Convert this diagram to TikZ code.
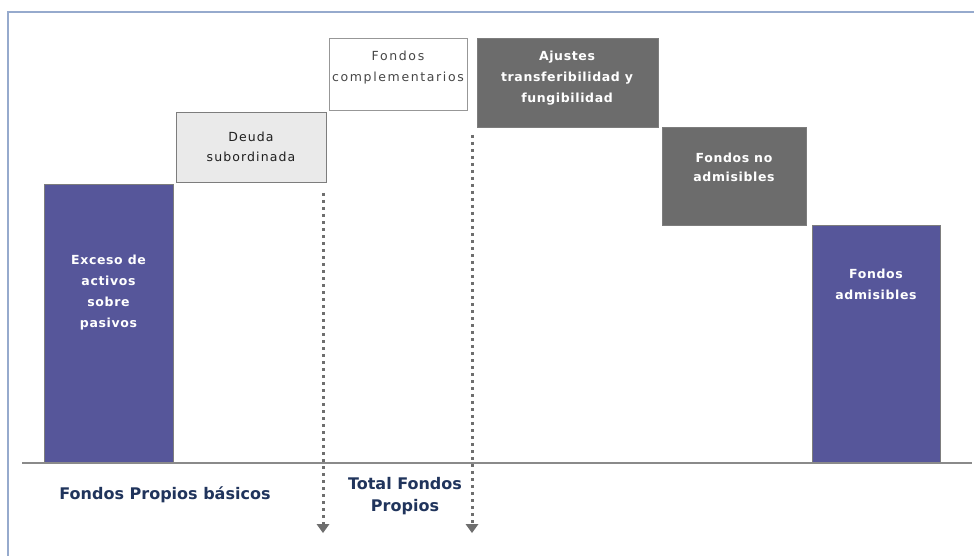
\documentclass[tikz,border=0pt]{standalone}
\usepackage{fontspec}
\setmainfont{DejaVu Sans}
\newfontfamily\spacedfont[LetterSpace=9]{DejaVu Sans}
\newfontfamily\widefont[LetterSpace=13]{DejaVu Sans}
\newfontfamily\spacedbold[LetterSpace=5]{DejaVu Sans Bold}
\usetikzlibrary{arrows.meta}
\definecolor{bluebar}{RGB}{86,86,154}
\definecolor{darkbox}{RGB}{108,108,108}
\definecolor{lightbox}{RGB}{234,234,234}
\definecolor{edgegray}{RGB}{125,125,125}
\definecolor{navytext}{RGB}{32,52,92}
\definecolor{framecol}{RGB}{150,170,205}
\definecolor{dotgray}{RGB}{110,110,110}
\begin{document}
\begin{tikzpicture}[x=1pt,y=-1pt,
  barbox/.style={draw=edgegray, line width=1pt, fill=bluebar, anchor=north west, inner sep=0pt},
  darkstep/.style={draw=edgegray, line width=1pt, fill=darkbox, anchor=north west, inner sep=0pt},
  lightstep/.style={draw=edgegray, line width=1.2pt, fill=lightbox, anchor=north west, inner sep=0pt},
  whitestep/.style={draw=edgegray!80, line width=1.2pt, fill=white, anchor=north west, inner sep=0pt},
  whitetxt/.style={text=white, font=\spacedbold\fontsize{12.5}{21}\selectfont, align=center, inner sep=0pt},
  greytxt/.style={text=black!88, font=\spacedfont\fontsize{12.5}{20}\selectfont, align=center, inner sep=0pt},
  labeltxt/.style={text=navytext, font=\bfseries\fontsize{16}{22}\selectfont, align=center, inner sep=0pt},
  dotline/.style={draw=dotgray, line width=3pt, dash pattern=on 3pt off 4pt},
  arrowhead/.style={fill=dotgray, draw=none}
]
\useasboundingbox (0,0) rectangle (974,556);
\fill[white] (0,0) rectangle (974,556);
% frame
\draw[framecol, line width=1.5pt] (8,556) -- (8,12) -- (974,12);
% baseline
\coordinate (baseL) at (22,463);
\coordinate (baseR) at (972,463);
% boxes
\node[barbox, minimum width=129pt, minimum height=279pt] (exceso) at (44,184) {};
\node[lightstep, minimum width=150pt, minimum height=70pt] (deuda) at (176,112) {};
\node[whitestep, minimum width=138pt, minimum height=72pt] (compl) at (329,38) {};
\node[darkstep, minimum width=181pt, minimum height=89pt] (ajustes) at (477,38) {};
\node[darkstep, minimum width=144pt, minimum height=98pt] (noadm) at (662,127) {};
\node[barbox, minimum width=128pt, minimum height=238pt] (adm) at (812,225) {};
\draw[edgegray!90, line width=1.5pt] (baseL) -- (baseR);
% texts
\node[whitetxt] (texceso) at (108.5,293) {Exceso de\\activos\\sobre\\pasivos};
\node[greytxt] (tdeuda) at (251,147) {Deuda\\subordinada};
\node[greytxt, text=black!72, font=\widefont\fontsize{12.5}{21}\selectfont] (tcompl) at (398,67.5) {Fondos\\complementarios};
\node[whitetxt] (tajustes) at (567,78) {Ajustes\\transferibilidad y\\fungibilidad};
\node[whitetxt, font=\spacedbold\fontsize{12.5}{19.5}\selectfont] (tnoadm) at (734,167.5) {Fondos no\\admisibles};
\node[whitetxt] (tadm) at (876,284) {Fondos\\admisibles};
\node[labeltxt] (basicos) at (165,495) {Fondos Propios básicos};
\node[labeltxt] (total) at (405,496) {Total Fondos\\Propios};
% dotted arrows
\coordinate (d1s) at (323,193);
\coordinate (d1e) at (323,524);
\coordinate (d2s) at (472,135);
\coordinate (d2e) at (472,524);
\draw[dotline] (d1s) -- (d1e);
\draw[dotline] (d2s) -- (d2e);
\fill[arrowhead] ([xshift=-6.5pt]d1e) -- ([xshift=6.5pt]d1e) -- ([yshift=-9pt]d1e) -- cycle;
\fill[arrowhead] ([xshift=-6.5pt]d2e) -- ([xshift=6.5pt]d2e) -- ([yshift=-9pt]d2e) -- cycle;
\end{tikzpicture}
\end{document}
